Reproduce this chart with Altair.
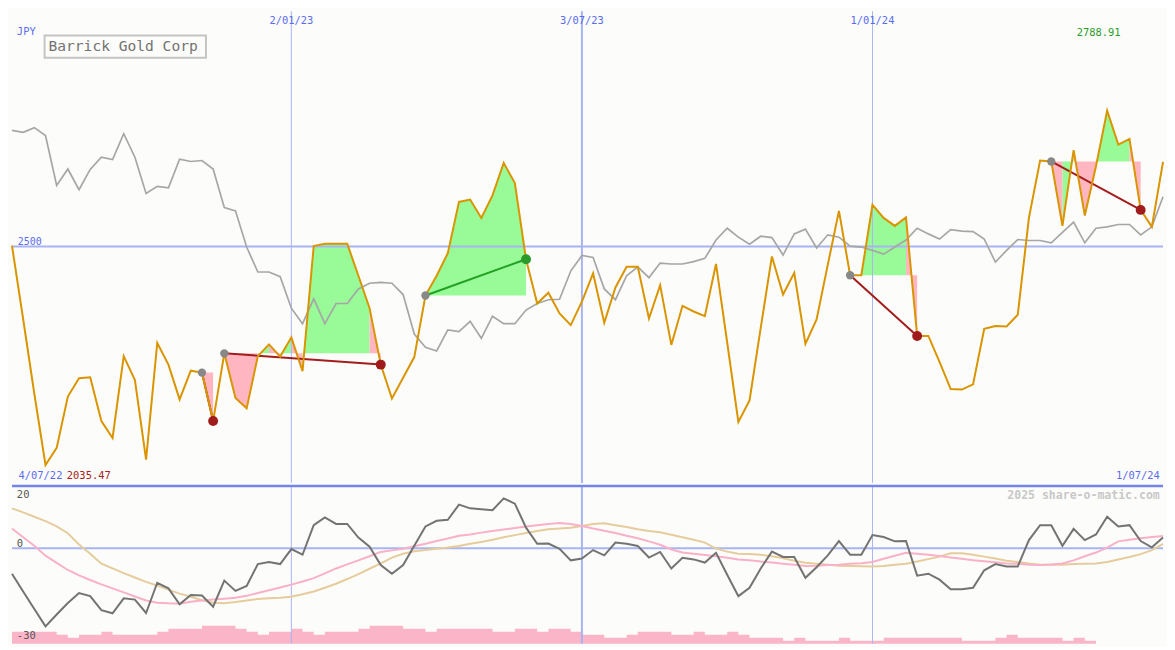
import altair as alt
import pandas as pd

# ---------------- data ----------------
currency = "JPY"
title = "Barrick Gold Corp"
start_label = "4/07/22"
end_label = "1/07/24"
grid_index = [25, 51, 77]
grid_label = ["2/01/23", "3/07/23", "1/01/24"]
ref_level = 2500
watermark = "2025 share-o-matic.com"
osc_top_label = "20"
osc_zero_label = "0"
osc_bottom_label = "-30"

price = [2502, 2346, 2187, 2035.47, 2072, 2181, 2220, 2222, 2129, 2093,
         2267, 2216, 2047, 2295, 2249, 2175, 2236, 2232, 2129, 2273,
         2178, 2156, 2267, 2292, 2266, 2307, 2235, 2501, 2506, 2506,
         2506, 2438, 2369, 2249, 2177, 2221, 2265, 2396, 2438, 2486,
         2595, 2600, 2561, 2609, 2678, 2635, 2473, 2379, 2402, 2358,
         2333, 2383, 2443, 2338, 2413, 2457, 2457, 2347, 2418, 2291,
         2374, 2362, 2352, 2463, 2296, 2127, 2173, 2327, 2479, 2398,
         2444, 2293, 2345, 2461, 2576, 2439, 2439, 2589, 2561, 2544,
         2562, 2310, 2310, 2255, 2197, 2196, 2207, 2325, 2331, 2330,
         2355, 2561, 2683, 2681, 2544, 2705, 2566, 2671, 2788.91, 2717,
         2729, 2578, 2542, 2680]

compare = [2747, 2743, 2753, 2736, 2630, 2665, 2621, 2664, 2690, 2685,
           2740, 2690, 2613, 2628, 2625, 2686, 2681, 2683, 2665, 2583,
           2576, 2499, 2446, 2446, 2436, 2369, 2336, 2389, 2336, 2379,
           2379, 2410, 2422, 2424, 2422, 2398, 2314, 2286, 2278, 2323,
           2319, 2341, 2305, 2352, 2336, 2336, 2365, 2379, 2387, 2388,
           2448, 2481, 2477, 2410, 2387, 2438, 2457, 2434, 2465, 2463,
           2463, 2468, 2475, 2514, 2539, 2520, 2505, 2522, 2519, 2482,
           2527, 2537, 2497, 2525, 2520, 2501, 2499, 2492, 2484, 2499,
           2514, 2539, 2527, 2516, 2536, 2533, 2532, 2516, 2467, 2492,
           2515, 2513, 2513, 2508, 2530, 2552, 2508, 2539, 2542, 2547,
           2547, 2525, 2542, 2606]

osc = [-8.2, -13.9, -19.5, -25.1, -21.3, -17.6, -14.4, -15.4, -19.9, -20.9,
       -16.1, -16.5, -20.8, -11.1, -12.9, -18.0, -15.0, -15.2, -18.8, -10.4,
       -13.7, -12.1, -5.1, -4.4, -5.1, -0.3, -2.1, 7.4, 9.9, 7.8,
       7.8, 3.4, 0.5, -5.4, -8.2, -5.4, 0.8, 7.0, 8.8, 9.1,
       14.0, 12.8, 12.5, 12.2, 16.0, 14.3, 6.6, 1.4, 1.5, -0.2,
       -3.9, -3.3, -0.6, -2.3, 1.8, 1.4, 0.7, -3.0, -1.2, -6.5,
       -3.1, -3.6, -4.6, -1.5, -8.5, -15.4, -12.7, -6.5, -1.1, -2.8,
       -2.8, -9.5, -6.1, -2.3, 2.3, -2.1, -2.1, 4.2, 3.6, 2.2,
       2.3, -8.8, -8.2, -10.1, -13.2, -13.2, -12.7, -7.1, -5.1, -5.9,
       -5.9, 2.6, 7.4, 7.4, 0.8, 6.2, 2.6, 4.4, 10.1, 7.0,
       7.4, 2.3, 0.3, 3.4]

osc_fast = [6.3, 3.5, 0.8, -2.4, -4.7, -7.0, -8.7, -10.2, -11.6, -12.9,
            -14.2, -15.5, -16.8, -17.5, -17.7, -17.8, -17.2, -16.8, -16.5, -16.2,
            -15.9, -15.3, -14.4, -13.5, -12.6, -11.7, -10.7, -9.6, -8.1, -6.5,
            -5.2, -3.9, -2.6, -1.2, -0.7, -0.2, 0.6, 1.4, 2.3, 3.1,
            4.0, 4.4, 5.0, 5.5, 6.0, 6.5, 7.0, 7.4, 7.8, 8.1,
            7.8, 7.1, 6.3, 5.6, 4.9, 4.0, 3.2, 2.2, 1.1, -0.4,
            -1.4, -1.8, -2.2, -2.6, -3.1, -3.6, -3.9, -4.3, -4.6, -5.0,
            -5.3, -5.7, -5.6, -5.4, -5.3, -5.0, -4.8, -4.4, -3.4, -2.4,
            -1.5, -1.8, -2.1, -2.5, -3.0, -3.4, -3.9, -4.2, -4.5, -4.9,
            -5.0, -5.3, -5.4, -5.2, -4.9, -3.9, -2.6, -1.4, 0.2, 2.2,
            2.7, 3.2, 3.6, 3.9]

osc_slow = [12.8, 11.5, 10.1, 8.7, 7.0, 4.8, 1.2, -1.8, -5.0, -6.5,
            -8.0, -9.4, -10.8, -12.0, -13.3, -14.6, -15.6, -16.7, -17.5, -17.7,
            -17.3, -16.8, -16.3, -16.1, -15.9, -15.6, -14.8, -13.9, -12.7, -11.4,
            -9.9, -8.3, -6.6, -4.9, -3.0, -1.8, -1.0, -0.6, -0.2, 0.2,
            0.7, 1.4, 2.0, 2.7, 3.5, 4.2, 4.9, 5.5, 6.1, 6.3,
            6.6, 7.1, 7.8, 8.0, 7.4, 6.8, 6.1, 5.5, 5.1, 4.3,
            3.5, 2.7, 1.8, -0.1, -1.1, -1.8, -1.9, -2.1, -2.6, -3.2,
            -4.0, -4.7, -5.0, -5.3, -5.6, -5.7, -5.8, -5.9, -5.7, -5.3,
            -5.0, -4.3, -3.5, -2.7, -1.6, -1.6, -2.1, -2.7, -3.3, -4.0,
            -4.4, -4.9, -5.3, -5.3, -5.3, -5.1, -5.0, -4.9, -4.4, -3.6,
            -2.8, -1.9, -0.6, 1.4]

volume = [4, 4, 4, 4, 3, 2, 3, 3, 4, 3,
          3, 3, 3, 4, 5, 5, 5, 6, 6, 6,
          5, 4, 3, 4, 4, 5, 4, 3, 4, 4,
          4, 5, 6, 6, 6, 5, 5, 4, 5, 5,
          5, 5, 5, 4, 4, 5, 5, 4, 5, 5,
          4, 3, 3, 2, 2, 3, 4, 4, 4, 3,
          3, 4, 3, 3, 4, 3, 2, 2, 2, 1,
          2, 1, 1, 1, 2, 1, 1, 1, 2, 2,
          2, 2, 2, 2, 2, 1, 1, 1, 2, 3,
          2, 2, 2, 2, 1, 2, 1, 0, 0, 0,
          0, 0, 0, 0]

# trades: (entry index, exit index)
trades = [(17, 18), (19, 33), (37, 46), (75, 81), (93, 101)]

# ---------------- layout / style ----------------
n = len(price)
W, H1, H2 = 1159, 475, 159
sx, sy1, sy2 = W / 1175, H1 / 487, H2 / 163
BG = "#fcfdfa"
MONO = "DejaVu Sans Mono"
BLUE_TXT = "#5b6cf0"
GRID = "#a8b4f2"

OSC_MIN, OSC_MAX = -30.7, 20
VOL_UNIT = 0.964   # one volume unit expressed in oscillator-axis units

xs = alt.Scale(domain=[0, n - 1], nice=False, zero=False)
yU = alt.Scale(domain=[1997.4, 3000.6], nice=False, zero=False)
yL = alt.Scale(domain=[OSC_MIN, OSC_MAX], nice=False, zero=False)
X = alt.X("i:Q", scale=xs, axis=None)

df = pd.DataFrame({"i": list(range(n)), "price": price, "compare": compare,
                   "osc": osc, "fast": osc_fast, "slow": osc_slow, "vol": volume})
df["vbase"] = OSC_MIN
df["vtop"] = OSC_MIN + df["vol"] * VOL_UNIT

grid = pd.DataFrame({"i": grid_index, "label": grid_label,
                     "w": [2 if lab == "3/07/23" else 1 for lab in grid_label]})
level_df = pd.DataFrame({"level": [ref_level], "label": [str(ref_level)]})
zero_df = pd.DataFrame({"v": [0], "label": [osc_zero_label]})
one = pd.DataFrame({"k": [0]})

# fills between price and entry level, one polygon per run of same direction
fill_rows = []
grp = 0
for a, b in trades:
    base = price[a]
    dirs = ["up" if price[k + 1] > base else "down" for k in range(a, b)]
    start = a
    for idx in range(len(dirs)):
        last = idx == len(dirs) - 1
        if last or dirs[idx + 1] != dirs[idx]:
            end = a + idx + 1
            for j in range(start, end + 1):
                fill_rows.append({"g": grp, "i": j, "p": price[j], "base": base, "dir": dirs[idx]})
            grp += 1
            start = end
fill_df = pd.DataFrame(fill_rows)

trade_rows = []
for t, (a, b) in enumerate(trades):
    res = "win" if price[b] > price[a] else "loss"
    trade_rows.append({"t": t, "i": a, "p": price[a], "res": res, "dot": "entry"})
    trade_rows.append({"t": t, "i": b, "p": price[b], "res": res, "dot": res})
trade_df = pd.DataFrame(trade_rows)

imax = max(range(n), key=lambda k: price[k])
imin = min(range(n), key=lambda k: price[k])
max_df = pd.DataFrame({"i": [imax], "label": [f"{price[imax]:.2f}"]})
min_label = f"{price[imin]:.2f}"


def YU(f):
    return alt.Y(f, scale=yU, axis=None)


def YL(f):
    return alt.Y(f, scale=yL, axis=None)


def label(text, x, y, colour, align="left", size=10.5, weight="normal"):
    return alt.Chart(one).mark_text(font=MONO, fontSize=size, fontWeight=weight, color=colour,
                                    align=align, baseline="alphabetic", text=text).encode(
        x=alt.value(x), y=alt.value(y))


# ---------------- upper panel ----------------
def fill_layer(direction, colour):
    d = fill_df[fill_df["dir"] == direction]
    return alt.Chart(d).mark_area(interpolate="linear", color=colour, opacity=1).encode(
        x=X, y=YU("p:Q"), y2="base:Q", detail="g:N")


fills_up = fill_layer("up", "#98fb98")
fills_dn = fill_layer("down", "#ffb6c1")

vgrid_u = alt.Chart(grid).mark_rule(color=GRID).encode(
    x=X, strokeWidth=alt.StrokeWidth("w:Q", scale=None))

hline = alt.Chart(level_df).mark_rule(color=GRID, strokeWidth=2).encode(y=YU("level:Q"))

cmp_line = alt.Chart(df).mark_line(color="#a6a6a6", strokeWidth=1.7).encode(x=X, y=YU("compare:Q"))


def trade_line(res, colour):
    d = trade_df[trade_df["res"] == res]
    return alt.Chart(d).mark_line(strokeWidth=2, color=colour).encode(x=X, y=YU("p:Q"), detail="t:N")


tl_win = trade_line("win", "#22a022")
tl_loss = trade_line("loss", "#a31d1d")

price_line = alt.Chart(df).mark_line(color="#d99400", strokeWidth=2).encode(x=X, y=YU("price:Q"))


def dot_layer(kind, colour, size):
    d = trade_df[trade_df["dot"] == kind]
    return alt.Chart(d).mark_circle(opacity=1, color=colour, size=size).encode(x=X, y=YU("p:Q"))


d_entry = dot_layer("entry", "#888888", 70)
d_win = dot_layer("win", "#2a9a2a", 100)
d_loss = dot_layer("loss", "#a01c1c", 100)

date_top = alt.Chart(grid).mark_text(font=MONO, fontSize=10.5, color=BLUE_TXT, align="center",
                                     baseline="alphabetic").encode(
    x=X, y=alt.value(13.3 * sy1), text="label:N")

lvl_txt = alt.Chart(level_df).mark_text(font=MONO, fontSize=10, color=BLUE_TXT, align="left",
                                        baseline="alphabetic", dy=-2).encode(
    x=alt.value(6 * sx), y=YU("level:Q"), text="label:N")

cur_txt = label(currency, 5 * sx, 25 * sy1, BLUE_TXT)

title_box = alt.Chart(one).mark_rect(fill=BG, stroke="#c4c4c4", strokeWidth=2).encode(
    x=alt.value(33.3 * sx), x2=alt.value(198 * sx), y=alt.value(25 * sy1), y2=alt.value(48 * sy1))

title_txt = label(title, 37.3 * sx, 40.7 * sy1, "#727272", size=14.7)

max_txt = alt.Chart(max_df).mark_text(font=MONO, fontSize=10.5, color="#2a9a2a", align="center",
                                      baseline="alphabetic", dx=-8.6).encode(
    x=X, y=alt.value(25.7 * sy1), text="label:N")

start_txt = label(start_label, 6.7 * sx, 482.7 * sy1, BLUE_TXT)
min_txt = label(min_label, 56 * sx, 482.7 * sy1, "#a52222")
end_txt = label(end_label, 1171.7 * sx, 482.7 * sy1, BLUE_TXT, align="right")

upper = alt.layer(fills_up, fills_dn, vgrid_u, hline, cmp_line, tl_win, tl_loss, price_line,
                  d_entry, d_win, d_loss, date_top, lvl_txt, cur_txt, title_box, title_txt,
                  max_txt, start_txt, min_txt, end_txt).properties(width=W, height=H1)

# ---------------- lower panel ----------------
vol_bars = alt.Chart(df).mark_area(color="#fbb5c9", interpolate="step-after", opacity=1).encode(
    x=X, y=YL("vtop:Q"), y2="vbase:Q")

vgrid_l = alt.Chart(grid).mark_rule(color=GRID).encode(
    x=X, strokeWidth=alt.StrokeWidth("w:Q", scale=None))

zero_line = alt.Chart(zero_df).mark_rule(color=GRID, strokeWidth=2).encode(y=YL("v:Q"))

slow_line = alt.Chart(df).mark_line(color="#e6cc9c", strokeWidth=2).encode(x=X, y=YL("slow:Q"))
fast_line = alt.Chart(df).mark_line(color="#f9b0c8", strokeWidth=2).encode(x=X, y=YL("fast:Q"))
osc_line = alt.Chart(df).mark_line(color="#737373", strokeWidth=2).encode(x=X, y=YL("osc:Q"))

sep_line = alt.Chart(one).mark_rule(color="#7384ea", strokeWidth=2.5).encode(
    x=alt.value(0), x2=alt.value(W), y=alt.value(0))

t20 = label(osc_top_label, 5 * sx, 12.7 * sy2, "#555555")
t0 = alt.Chart(zero_df).mark_text(font=MONO, fontSize=10.5, color="#555555", align="left",
                                  baseline="alphabetic", dy=-1.5).encode(
    x=alt.value(5 * sx), y=YL("v:Q"), text="label:N")
t30 = label(osc_bottom_label, 5 * sx, 158 * sy2, "#555555")
wm = label(watermark, 1171.7 * sx, 13.7 * sy2, "#c8c8c8", align="right", size=11.6, weight="bold")

lower = alt.layer(vol_bars, vgrid_l, zero_line, slow_line, fast_line, osc_line, sep_line,
                  t20, t0, t30, wm).properties(width=W, height=H2)

chart = alt.vconcat(upper, lower, spacing=0).properties(
    background=BG, padding=0).configure_view(stroke=None)

chart.save("out.html", embed_options={"renderer": "svg", "actions": False})
